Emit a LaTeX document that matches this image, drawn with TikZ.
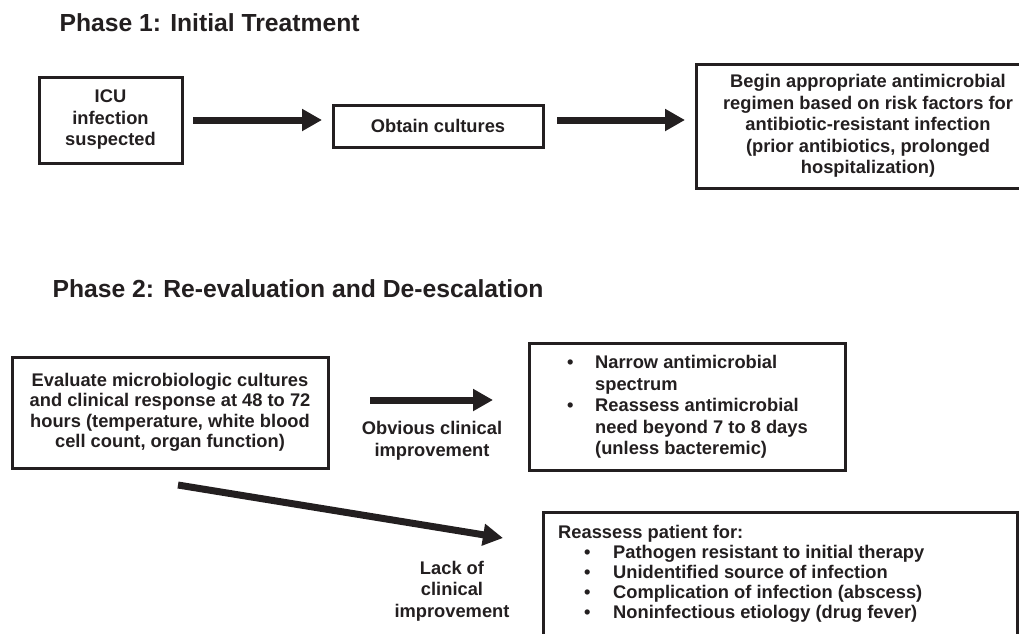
\documentclass[tikz,border=0pt]{standalone}
\usepackage{fontspec}
\setmainfont{Liberation Sans}
\usetikzlibrary{arrows.meta}
\definecolor{ink}{HTML}{231F20}
\begin{document}
\begin{tikzpicture}[x=1pt,y=-1pt,
  every node/.style={text=ink, font=\bfseries\fontsize{18.3}{21.5}\selectfont},
  box/.style={draw=ink, line width=3pt, outer sep=0pt, inner sep=0pt, align=center},
  bigarrow/.style={draw=ink, line width=7pt, -{Triangle[length=20pt,width=21pt]}},
  title/.style={anchor=base west, font=\bfseries\fontsize{24.7}{30}\selectfont}]
\useasboundingbox (0,0) rectangle (1019,633);

% Phase 1
\node[title] (t1) at (56,31.7) {Phase 1: Initial Treatment};
\node[box, minimum width=143pt, minimum height=86pt] (icu) at (110.5,120) {ICU\\infection\\suspected};
\node[box, minimum width=210pt, minimum height=42pt] (obtain) at (438,126) {Obtain cultures};
\node[box, minimum width=344pt, minimum height=124pt] (begin) at (868,126)
  {Begin appropriate antimicrobial\\regimen based on risk factors for\\antibiotic-resistant infection\\(prior antibiotics, prolonged\\hospitalization)};

\draw[bigarrow] ([xshift=11pt]icu.east) -- ([xshift=-11pt,yshift=6pt]obtain.west);
\draw[bigarrow] ([xshift=14pt,yshift=6pt]obtain.east) -- ([xshift=-11pt,yshift=6pt]begin.west);

% Phase 2
\node[title] (t2) at (49,297) {Phase 2: Re-evaluation and De-escalation};
\node[box, minimum width=316pt, minimum height=111pt, font=\bfseries\fontsize{18.3}{20.5}\selectfont] (eval) at (170,412.5)
  {Evaluate microbiologic cultures\\and clinical response at 48 to 72\\hours (temperature, white blood\\cell count, organ function)};

\node[box, minimum width=316pt, minimum height=127pt] (narrow) at (687,406.5) {};
\node[anchor=north west, inner sep=0pt] (narrowtxt) at (566.8,353.5) {%
  \begin{tabular}{@{}l@{}l@{}}
  \makebox[28.2pt][l]{\textbullet} & Narrow antimicrobial\\
   & spectrum\\
  \makebox[28.2pt][l]{\textbullet} & Reassess antimicrobial\\
   & need beyond 7 to 8 days\\
   & (unless bacteremic)
  \end{tabular}};

\node[box, anchor=north west, minimum width=474pt, minimum height=170pt] (reass) at (543,512) {};
\node[anchor=north west, inner sep=0pt, font=\bfseries\fontsize{18.3}{20}\selectfont] (reasstxt) at (558,524.6) {%
  \begin{tabular}{@{}l@{}l@{}}
  \multicolumn{2}{@{}l@{}}{Reassess patient for:}\\
  \makebox[55pt][l]{\hspace{26pt}\textbullet} & Pathogen resistant to initial therapy\\
  \makebox[55pt][l]{\hspace{26pt}\textbullet} & Unidentified source of infection\\
  \makebox[55pt][l]{\hspace{26pt}\textbullet} & Complication of infection (abscess)\\
  \makebox[55pt][l]{\hspace{26pt}\textbullet} & Noninfectious etiology (drug fever)
  \end{tabular}};

\node[align=center] (lab1) at (432,441) {Obvious clinical\\improvement};
\node[align=center] (lab2) at (452,591) {Lack of\\clinical\\improvement};

\draw[bigarrow] ([xshift=42pt,yshift=12.5pt]eval.east) -- ([xshift=-36pt,yshift=6.5pt]narrow.west);
\draw[bigarrow] ([xshift=166pt,yshift=-17pt]eval.south west) -- ([xshift=-40pt,yshift=-26pt]reass.north west);
\end{tikzpicture}
\end{document}
